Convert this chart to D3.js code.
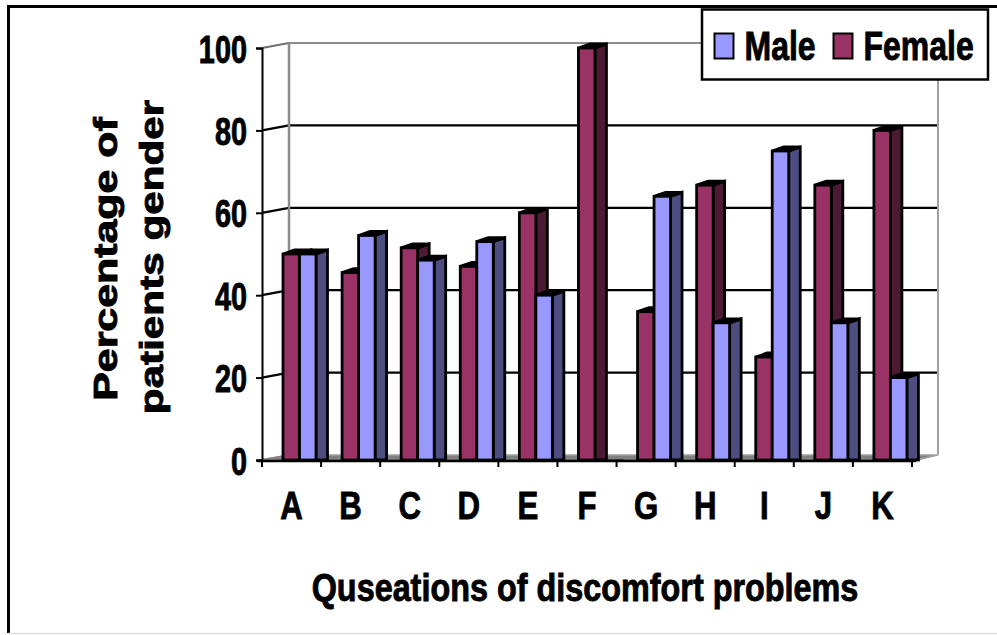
<!DOCTYPE html>
<html><head><meta charset="utf-8">
<script src="https://cdn.jsdelivr.net/npm/d3@7"></script>
<style>html,body{margin:0;padding:0;background:#fff}svg{display:block}text{font-family:"Liberation Sans",Arial,sans-serif;font-weight:700;fill:#000;stroke:#000;stroke-width:0.9px}</style>
</head><body><svg id="c" width="997" height="635"></svg>
<script>
const categories = ["A","B","C","D","E","F","G","H","I","J","K"];
const femaleValues = [50,45.5,51.5,47,60,100,36,66.7,25,66.7,80];
const maleValues = [50,54.5,48.5,53,40,0,64,33.3,75,33.3,20];
const yTicks = [0,20,40,60,80,100];
const seriesNames = ["Male","Female"];
const colors = {Male:"#9999ff",MaleSide:"#4d4d80",Female:"#993366",FemaleSide:"#4d1a33"};

const svg = d3.select("#c");
const y = d3.scaleLinear().domain([0,100]).range([460,48]);
const x = d3.scaleBand().domain(categories).range([262,912]);
const wall = {dx:27,dy:-5};
const barDepth = {dx:11.5,dy:-4};
const barOffset = 21, barW = 16.5;
const line = (x1,y1,x2,y2,c,w)=>svg.append("line").attr("x1",x1).attr("y1",y1).attr("x2",x2).attr("y2",y2).attr("stroke",c).attr("stroke-width",w);

// frame
line(8,6.5,997,6.5,"#000",3);
line(8.5,5,8.5,633,"#000",3);
line(8,633.5,997,633.5,"#ddd",1.5);

// floor
svg.append("polygon").attr("points",[[262,460],[262+wall.dx,460+wall.dy],[938,460+wall.dy],[916,461]].join(" ")).attr("fill","#808080");
svg.append("path").attr("d",`M262,${y(0)-0.5}L${262+wall.dx},${y(0)+wall.dy}H938L916,${y(0)}`).attr("fill","none").attr("stroke","#a0a0a0").attr("stroke-width",1.5);

// gridlines & wall
yTicks.filter(t=>t>0).forEach(t=>{
  const c = t===100?"#8c8c8c":"#000";
  line(262+wall.dx,y(t)+wall.dy,938,y(t)+wall.dy,c,2.2);
  line(262,y(t),262+wall.dx,y(t)+wall.dy,t===100?"#707070":"#000",2.2);
});
line(262,y(0),262+wall.dx,y(0)+wall.dy,"#808080",1.5);
line(262+wall.dx,y(100)+wall.dy,262+wall.dx,y(0)+wall.dy,"#8c8c8c",2.5);
line(938,y(100)+wall.dy,938,y(0)+wall.dy,"#a0a0a0",2);

// bars
function bar(cat,value,idx,name){
  if(value<=0) return;
  const x0 = x(cat)+barOffset+idx*barW, x1 = x0+barW, yt = y(value), yb = y(0);
  const g = svg.append("g").attr("stroke","#000").attr("stroke-width",2.8).attr("stroke-linejoin","miter");
  g.append("polygon").attr("points",[[x1,yt],[x1+barDepth.dx,yt+barDepth.dy],[x1+barDepth.dx,yb+barDepth.dy+4],[x1,yb]].join(" ")).attr("fill",colors[name+"Side"]);
  g.append("polygon").attr("points",[[x0,yt],[x0+barDepth.dx,yt+barDepth.dy],[x1+barDepth.dx,yt+barDepth.dy],[x1,yt]].join(" ")).attr("fill","#000");
  g.append("rect").attr("x",x0).attr("y",yt).attr("width",barW).attr("height",yb-yt).attr("fill",colors[name]);
}
categories.forEach((c,i)=>{
  bar(c,femaleValues[i],0,"Female");
  bar(c,maleValues[i],1,"Male");
});
line(x("F")+barOffset+barW,y(0)+0.5,x("F")+barOffset+barW*2+barDepth.dx+1,y(0)+0.5,"#000",2);

const squeeze = (sel,sx)=>sel.attr("transform",`scale(${sx},1)`);

// axes
const gy = svg.append("g").attr("transform","translate(262,0)").call(d3.axisLeft(y).tickValues(yTicks).tickSize(6).tickPadding(9));
gy.selectAll("path,line").attr("stroke","#000").attr("stroke-width",2);
gy.selectAll("text").attr("font-size",39).attr("dy","0.36em").attr("x",-15/0.74);
squeeze(gy.selectAll("text"),0.74);

const gx = svg.append("g").attr("transform",`translate(0,${y(0)+1})`).call(d3.axisBottom(x).tickSize(6).tickPadding(24).tickSizeOuter(6));
gx.select("path").attr("stroke","#000").attr("stroke-width",2.5).attr("d","M257,0H916");
gx.selectAll(".tick line").remove();
categories.concat(["_"]).forEach(c=>{
  const px = c==="_"?x.range()[1]:x(c);
  gx.append("line").attr("x1",px).attr("x2",px).attr("y1",0).attr("y2",6).attr("stroke","#000").attr("stroke-width",2);
});
gx.selectAll(".tick text").attr("font-size",39);
squeeze(gx.selectAll(".tick text"),0.8);

// axis titles
const title=(cx,cy,rot,txt,size,sx)=>svg.append("text").attr("transform",`translate(${cx},${cy}) rotate(${rot}) scale(${sx},1)`)
  .attr("text-anchor","middle").attr("font-size",size).text(txt);
title(117,259,-90,"Percentage of",33,1.3);
title(163,257,-90,"patients gender",33,1.28);
title(585,601,0,"Quseations of discomfort problems",39,0.83);

// legend
svg.append("rect").attr("x",702).attr("y",9.5).attr("width",286).attr("height",70).attr("fill","#fff").attr("stroke","#000").attr("stroke-width",2.5);
const legendX = d3.scaleOrdinal().domain(seriesNames).range([714.5,833.5]);
seriesNames.forEach(n=>{
  svg.append("rect").attr("x",legendX(n)).attr("y",33.5).attr("width",19).attr("height",25).attr("fill",colors[n]).attr("stroke","#000").attr("stroke-width",2);
  svg.append("text").attr("transform",`translate(${legendX(n)+30},60) scale(0.78,1)`).attr("font-size",41).text(n);
});
</script></body></html>
